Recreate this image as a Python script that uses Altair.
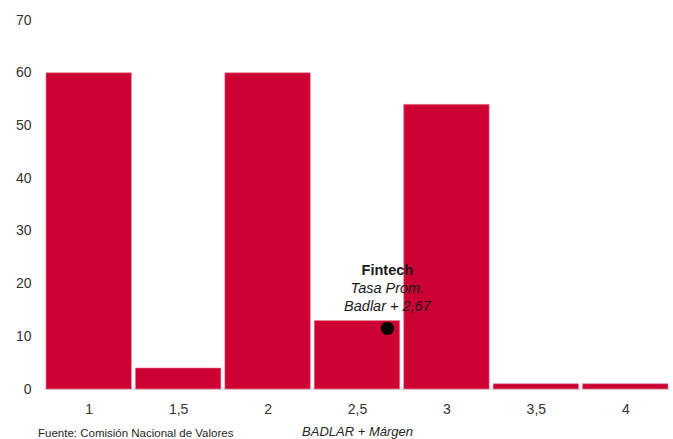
import altair as alt
import pandas as pd

# Spread over BADLAR (percentage points) and share of issues
margins = [1, 1.5, 2, 2.5, 3, 3.5, 4]
shares = [60, 4, 60, 13, 54, 1, 1]

# Fintech average rate marker
fintech_margin = 2.67
fintech_level = 11.5
fintech_lines = ["Fintech", "Tasa Prom.", "Badlar + 2,67"]
fintech_styles = ["normal", "italic", "italic"]
fintech_weights = ["bold", "normal", "normal"]
fintech_dy = [-57, -39, -21]

source_note = "Fuente: Comisión Nacional de Valores"

bars_df = pd.DataFrame({"margin": margins, "share": shares})
dot_df = pd.DataFrame({"margin": [fintech_margin], "share": [fintech_level]})

RED = "#CC0033"
FONT = "Liberation Sans"
half_width = 0.239

x_scale = alt.Scale(domain=[0.75, 4.25], nice=False, zero=False)
y_scale = alt.Scale(domain=[0, 70], nice=False)

bars = alt.Chart(bars_df).transform_calculate(
    lo=f"datum.margin - {half_width}",
    hi=f"datum.margin + {half_width}",
).mark_bar(color=RED, stroke="#E88AA0", strokeWidth=0.6).encode(
    x=alt.X(
        "lo:Q",
        scale=x_scale,
        axis=alt.Axis(
            values=margins,
            labelExpr="replace(toString(datum.value), '.', ',')",
            title="BADLAR + Márgen",
            titleFontStyle="italic",
            titleFontWeight="normal",
            titleFontSize=13,
            titleColor="#262626",
            titlePadding=9,
            labelFontSize=14,
            labelColor="#333333",
            labelPadding=13,
            ticks=False,
            grid=False,
            domain=True,
            domainColor="#D9D9D9",
            domainWidth=1,
        ),
    ),
    x2="hi:Q",
    y=alt.Y(
        "share:Q",
        scale=y_scale,
        axis=alt.Axis(
            values=[0, 10, 20, 30, 40, 50, 60, 70],
            title=None,
            labelFontSize=14,
            labelColor="#333333",
            labelPadding=13,
            ticks=False,
            grid=False,
            domain=False,
        ),
    ),
    y2=alt.datum(0),
)

dot = alt.Chart(dot_df).mark_circle(color="black", opacity=1, size=175).encode(
    x=alt.X("margin:Q", scale=x_scale),
    y=alt.Y("share:Q", scale=y_scale),
)

labels = [
    alt.Chart(dot_df).mark_text(
        text=line,
        dy=dy,
        fontStyle=style,
        fontWeight=weight,
        fontSize=14.5,
        font=FONT,
        color="#1a1a1a",
        align="center",
    ).encode(
        x=alt.X("margin:Q", scale=x_scale),
        y=alt.Y("share:Q", scale=y_scale),
    )
    for line, style, weight, dy in zip(fintech_lines, fintech_styles, fintech_weights, fintech_dy)
]

note = alt.Chart(dot_df).mark_text(
    text=source_note, align="left", baseline="middle", fontSize=11.5, font=FONT, color="#262626"
).encode(x=alt.value(-6), y=alt.value(414))

chart = (
    alt.layer(bars, dot, *labels, note)
    .properties(
        width=626,
        height=369,
        autosize=alt.AutoSizeParams(type="none"),
        padding={"left": 44, "top": 20, "right": 3, "bottom": 50},
    )
    .configure(font=FONT)
    .configure_view(strokeWidth=0)
    .configure_axis(grid=False)
    .configure_axisY(domain=False, ticks=False)
)

chart.save("out.html", embed_options={"renderer": "svg", "actions": False})
